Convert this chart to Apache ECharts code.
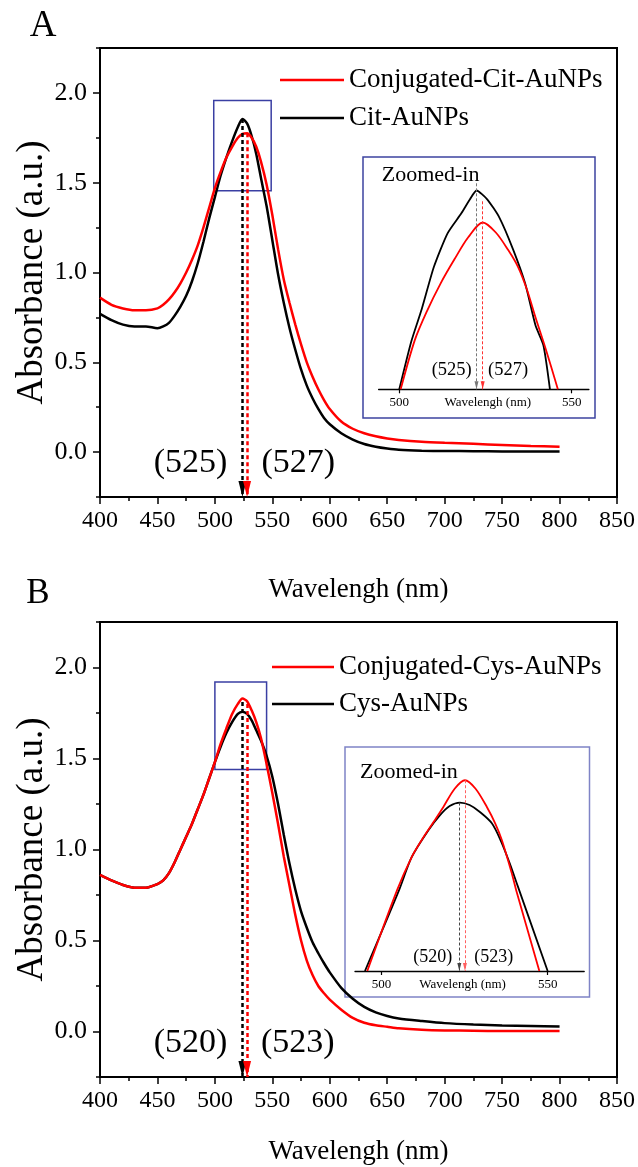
<!DOCTYPE html>
<html><head><meta charset="utf-8">
<script src="https://cdn.jsdelivr.net/npm/echarts@6/dist/echarts.min.js"></script>
<style>html,body{margin:0;padding:0;background:#fff}#c{width:638px;height:1167px}</style>
</head><body><div id="c"></div>
<script>
// ---------- data ----------
const wavelength = [400,410,420,430,440,450,455,460,465,470,475,480,485,490,495,500,505,510,515,520,524,528,532,536,540,545,550,555,560,565,570,575,580,585,590,595,600,610,620,630,640,650,660,680,700,725,750,775,800];
// Panel A
const conjCitA = [0.86,0.82,0.80,0.79,0.79,0.80,0.82,0.85,0.89,0.94,1.00,1.07,1.15,1.25,1.36,1.47,1.56,1.64,1.70,1.75,1.772,1.775,1.75,1.70,1.62,1.49,1.32,1.13,0.96,0.83,0.71,0.60,0.50,0.42,0.35,0.29,0.24,0.17,0.13,0.105,0.088,0.076,0.068,0.058,0.052,0.046,0.04,0.034,0.03];
const citA     = [0.77,0.735,0.71,0.70,0.70,0.69,0.70,0.72,0.76,0.81,0.87,0.95,1.05,1.17,1.30,1.42,1.54,1.64,1.73,1.81,1.855,1.83,1.76,1.66,1.53,1.37,1.18,0.99,0.83,0.69,0.57,0.46,0.37,0.30,0.24,0.19,0.155,0.105,0.07,0.045,0.03,0.02,0.013,0.008,0.006,0.005,0.004,0.003,0.003];
// Panel B
const conjCysB = [0.86,0.83,0.805,0.79,0.79,0.81,0.83,0.87,0.93,1.00,1.07,1.14,1.22,1.30,1.39,1.48,1.58,1.665,1.745,1.80,1.829,1.815,1.765,1.70,1.615,1.47,1.31,1.14,0.96,0.80,0.64,0.50,0.39,0.31,0.25,0.21,0.175,0.12,0.075,0.048,0.034,0.026,0.018,0.01,0.006,0.004,0.003,0.003,0.003];
const cysB     = [0.86,0.83,0.805,0.79,0.79,0.81,0.83,0.87,0.93,1.00,1.07,1.14,1.22,1.30,1.39,1.48,1.565,1.64,1.70,1.745,1.757,1.745,1.71,1.655,1.60,1.515,1.40,1.25,1.08,0.92,0.78,0.66,0.57,0.49,0.43,0.375,0.325,0.24,0.18,0.135,0.105,0.085,0.072,0.058,0.046,0.038,0.033,0.03,0.027];

// Zoomed-in insets
const insetCitX     = [500.0,503.5,506.5,510,514,518,520.5,522.4,525.5,529,533,536.5,539.5,541.8,543.7];
const insetCitY     = [1.36,1.48,1.56,1.665,1.75,1.80,1.835,1.857,1.835,1.79,1.71,1.625,1.52,1.47,1.36];
const insetConjCitX = [500.4,504.5,508,512,516,520,524.2,528,531.6,534.5,537,539.5,542.5,546];
const insetConjCitY = [1.36,1.483,1.555,1.625,1.685,1.74,1.777,1.752,1.708,1.665,1.61,1.54,1.46,1.36];
const insetCysX     = [495.0,505.3,509.1,514.1,517.6,520.5,523.6,526.5,529.6,533.2,536,538.5,541,550.0];
const insetCysY     = [1.22,1.478,1.583,1.668,1.716,1.745,1.756,1.748,1.726,1.690,1.632,1.565,1.49,1.22];
const insetConjCysX = [495.7,504.7,509.1,512.1,515.4,518.6,522,525.1,528.3,531.7,534.2,536.2,539.2,540.5,547.5];
const insetConjCysY = [1.22,1.478,1.583,1.637,1.690,1.742,1.80,1.827,1.80,1.742,1.690,1.637,1.531,1.478,1.22];

// peak markers [wavelength, top of dotted line]
const peakCitA = [524, 1.855], peakConjCitA = [528, 1.775];
const peakCysB = [524, 1.81],  peakConjCysB = [528, 1.80];
const insetPeakCit = [522.4, 1.875], insetPeakConjCit = [524.2, 1.83];
const insetPeakCys = [523.4, 1.756], insetPeakConjCys = [525.1, 1.827];
// zoom boxes [[x0,y0],[x1,y1]]
const zoomBoxA = [[499, 1.455], [549, 1.957]];
const zoomBoxB = [[500, 1.44], [545, 1.92]];

const yMajorTicks = [0, 0.5, 1.0, 1.5, 2.0];
const insetTicks = [500, 550];
const namesA = ['Conjugated-Cit-AuNPs', 'Cit-AuNPs'];
const namesB = ['Conjugated-Cys-AuNPs', 'Cys-AuNPs'];
const peakLabelsA = ['(525)', '(527)'];
const peakLabelsB = ['(520)', '(523)'];

// ---------- chart ----------
const FONT = '"Liberation Serif", "Times New Roman", serif';
const pairs = (xs, ys) => xs.map((x, i) => [x, ys[i]]);
const Y_MIN = -0.25, Y_MAX = 2.25;

function arrowLine(pk, bottom, color, width, dash, size) {
  return {
    silent: true, animation: false,
    symbol: ['none', 'triangle'], symbolSize: size,
    symbolOffset: [0, [0, size[1] / 2]],
    label: { show: false },
    lineStyle: { color: color, width: width, type: dash, opacity: 1 },
    itemStyle: { color: color },
    emphasis: { disabled: true },
    data: [[{ coord: [pk[0], pk[1]] }, { coord: [pk[0], bottom] }]]
  };
}
function boxArea(b) {
  return {
    silent: true,
    itemStyle: { color: 'rgba(0,0,0,0)', borderColor: '#3a3fa3', borderWidth: 1.5 },
    label: { show: false },
    data: [[{ coord: b[0] }, { coord: b[1] }]]
  };
}
function mainX(grid, nameGap) {
  return {
    type: 'value', gridIndex: grid, min: 400, max: 850, interval: 50,
    name: 'Wavelengh (nm)', nameLocation: 'middle', nameGap: nameGap, nameMoveOverlap: false,
    nameTextStyle: { fontFamily: FONT, fontSize: 27, color: '#000' },
    axisLine: { onZero: false, lineStyle: { color: '#000', width: 2 } },
    axisTick: { show: true, length: 7, lineStyle: { color: '#000', width: 1.5 } },
    minorTick: { show: true, splitNumber: 2, length: 4, lineStyle: { color: '#000', width: 1.5 } },
    axisLabel: { fontFamily: FONT, fontSize: 24, color: '#000', margin: 12 },
    splitLine: { show: false }, minorSplitLine: { show: false }
  };
}
function mainY(grid) {
  return [{
    type: 'value', gridIndex: grid, position: 'left', min: Y_MIN, max: Y_MAX, interval: 0.25,
    name: 'Absorbance (a.u.)', nameLocation: 'middle', nameGap: 49, nameMoveOverlap: false,
    nameTextStyle: { fontFamily: FONT, fontSize: 37, color: '#000' },
    axisLine: { onZero: false, lineStyle: { color: '#000', width: 2 } },
    axisTick: { show: true, length: 4, lineStyle: { color: '#000', width: 1.5 } },
    axisLabel: { fontFamily: FONT, fontSize: 26, color: '#000', margin: 13,
      formatter: v => (yMajorTicks.some(t => Math.abs(t - v) < 1e-6) ? v.toFixed(1) : '') },
    splitLine: { show: false }
  }, {
    type: 'value', gridIndex: grid, position: 'left', offset: 0, min: Y_MIN, max: Y_MAX,
    axisLine: { show: false, onZero: false },
    axisTick: { show: true, length: 7, customValues: yMajorTicks, lineStyle: { color: '#000', width: 1.5 } },
    axisLabel: { show: false },
    splitLine: { show: false }
  }];
}
function insetX(grid, min, max, pad) {
  return {
    type: 'value', gridIndex: grid, min: min, max: max,
    name: 'Wavelengh (nm)', nameLocation: 'middle', nameGap: 7, nameMoveOverlap: false,
    nameTextStyle: { fontFamily: FONT, fontSize: 13, color: '#000', padding: pad },
    axisLine: { onZero: false, lineStyle: { color: '#000', width: 1.3 } },
    axisTick: { show: true, length: 4, customValues: insetTicks, lineStyle: { color: '#000', width: 1.2 } },
    axisLabel: { fontFamily: FONT, fontSize: 13, color: '#000', margin: 7, customValues: insetTicks },
    splitLine: { show: false }
  };
}
function insetY(grid, min, max) {
  return { type: 'value', gridIndex: grid, min: min, max: max, show: false, splitLine: { show: false } };
}
function line(name, xi, yi, data, color, width, smooth, extra) {
  return Object.assign({
    type: 'line', name: name, xAxisIndex: xi, yAxisIndex: yi, data: data,
    symbol: 'none', smooth: smooth, clip: true, animation: false,
    lineStyle: { color: color, width: width }, itemStyle: { color: color },
    emphasis: { disabled: true }
  }, extra || {});
}
function txt(x, y, s, size, align) {
  return { type: 'text', x: x, y: y, z: 10,
    style: { text: s, fontFamily: FONT, fontSize: size, fill: '#000',
             align: align || 'center', verticalAlign: 'middle' } };
}
function legend(names, left, top, w, gap) {
  return { data: names, left: left, top: top, orient: 'vertical', padding: 0,
    icon: 'rect', itemWidth: w, itemHeight: 2.5, itemGap: gap, selectedMode: false,
    textStyle: { fontFamily: FONT, fontSize: 27, color: '#000', lineHeight: 30 } };
}

const chart = echarts.init(document.getElementById('c'), null, { renderer: 'canvas' });
chart.setOption({
  animation: false,
  backgroundColor: '#fff',
  grid: [
    { left: 100, top: 48, width: 518, height: 449, show: true, borderColor: '#000', borderWidth: 2, backgroundColor: 'transparent' },
    { left: 378.6, top: 165.3, width: 210.3, height: 224 },
    { left: 100, top: 622, width: 518, height: 455, show: true, borderColor: '#000', borderWidth: 2, backgroundColor: 'transparent' },
    { left: 355, top: 751, width: 229.2, height: 220 }
  ],
  xAxis: [ mainX(0, 79), insetX(1, 494, 555, [0, 0, 0, 8]), mainX(2, 61), insetX(3, 492, 561, [0, 14, 0, 0]) ],
  yAxis: [].concat(mainY(0), [insetY(1, 1.36, 1.92)], mainY(2), [insetY(3, 1.22, 1.92)]),
  legend: [ legend(namesA, 280, 65, 64, 8), legend(namesB, 272, 652, 62, 7) ],
  graphic: [
    { type: 'rect', shape: { x: 363, y: 157, width: 232, height: 261 }, z: 1,
      style: { fill: 'none', stroke: '#3d43a0', lineWidth: 1.5 } },
    { type: 'rect', shape: { x: 345, y: 747, width: 244.5, height: 250 }, z: 1,
      style: { fill: 'none', stroke: '#7f84c6', lineWidth: 1.5 } },
    txt(43, 26, 'A', 37), txt(38, 594, 'B', 35),
    txt(190.5, 463, peakLabelsA[0], 34), txt(298.3, 463, peakLabelsA[1], 34),
    txt(190.5, 1043, peakLabelsB[0], 34), txt(297.8, 1043, peakLabelsB[1], 34),
    txt(381.7, 175, 'Zoomed-in', 22, 'left'), txt(360, 772, 'Zoomed-in', 22, 'left'),
    txt(451.7, 370, peakLabelsA[0], 18.5), txt(508, 370, peakLabelsA[1], 18.5),
    txt(432.7, 957, peakLabelsB[0], 18), txt(493.7, 957, peakLabelsB[1], 18)
  ],
  series: [
    line(namesA[1], 0, 0, pairs(wavelength, citA), '#000', 2.5, 0.25,
      { markArea: boxArea(zoomBoxA), markLine: arrowLine(peakCitA, Y_MIN, '#000', 2.5, [4, 3], [8, 16]) }),
    line(namesA[0], 0, 0, pairs(wavelength, conjCitA), '#ff0000', 2.5, 0.25,
      { markLine: arrowLine(peakConjCitA, Y_MIN, '#ff0000', 2.5, [4, 3], [8, 16]) }),
    line('insetCit', 1, 2, pairs(insetCitX, insetCitY), '#000', 1.8, 0.2,
      { markLine: arrowLine(insetPeakCit, 1.36, '#777', 1, [3, 2], [4, 8]) }),
    line('insetConjCit', 1, 2, pairs(insetConjCitX, insetConjCitY), '#ff0000', 1.8, 0.3,
      { markLine: arrowLine(insetPeakConjCit, 1.36, '#ff3030', 1, [3, 2], [4, 8]) }),
    line(namesB[1], 2, 3, pairs(wavelength, cysB), '#000', 2.5, 0.25,
      { markArea: boxArea(zoomBoxB), markLine: arrowLine(peakCysB, Y_MIN, '#000', 2.5, [4, 3], [8, 16]) }),
    line(namesB[0], 2, 3, pairs(wavelength, conjCysB), '#ff0000', 2.5, 0.25,
      { markLine: arrowLine(peakConjCysB, Y_MIN, '#ff0000', 2.5, [4, 3], [8, 16]) }),
    line('insetCys', 3, 5, pairs(insetCysX, insetCysY), '#000', 1.8, 0.3,
      { markLine: arrowLine(insetPeakCys, 1.22, '#444', 1, [3, 2], [4, 8]) }),
    line('insetConjCys', 3, 5, pairs(insetConjCysX, insetConjCysY), '#ff0000', 1.8, 0.3,
      { markLine: arrowLine(insetPeakConjCys, 1.22, '#ff6060', 1, [3, 2], [4, 8]) })
  ]
});
</script></body></html>
